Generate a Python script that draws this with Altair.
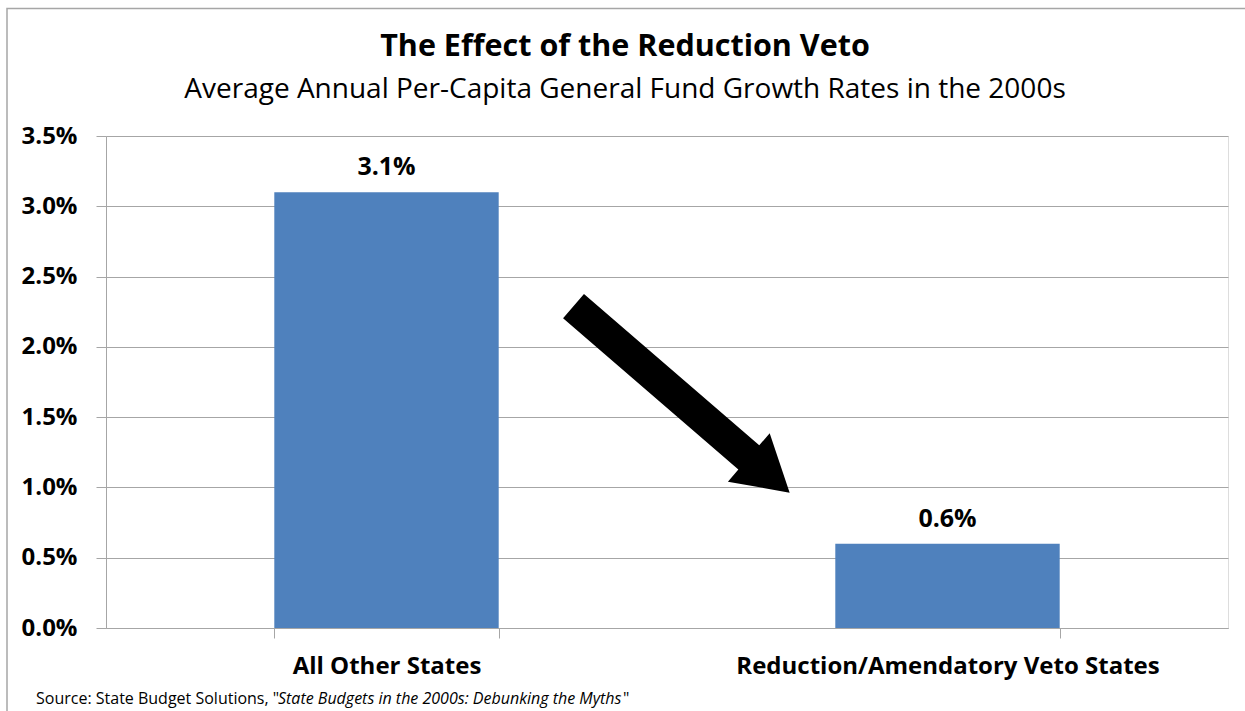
import altair as alt
import pandas as pd

# ---- chart content -------------------------------------------------------
categories = ["All Other States", "Reduction/Amendatory Veto States"]
growth_pct = [3.1, 0.6]
y_ticks = [0.0, 0.5, 1.0, 1.5, 2.0, 2.5, 3.0, 3.5]

title_text = "The Effect of the Reduction Veto"
subtitle_text = "Average Annual Per-Capita General Fund Growth Rates in the 2000s"

source_lead = ['Source: State Budget Solutions, "']
source_work = ["State Budgets in the 2000s: Debunking the Myths"]
source_tail = ['"']

# downward arrow between the bars: centre given as a fraction of the plot
# width and as a growth value on the y scale
arrow_pos = [0.513]
arrow_growth = [1.626]

# ---- styling -------------------------------------------------------------
FONT = "Open Sans"
BAR = "#4F81BD"
GRID = "#A6A6A6"
W, H = 1122, 492

# block arrow pointing right in the unit square; rotated onto its heading
ARROW_SHAPE = ("M -1 -0.112 L 0.622 -0.112 L 0.622 -0.224 L 1 0 "
               "L 0.622 0.224 L 0.622 0.112 L -1 0.112 Z")

bars_df = pd.DataFrame({"category": categories, "growth": growth_pct})
bars_df["label"] = [f"{v:.1f}%" for v in growth_pct]
arrow_df = pd.DataFrame({"pos": arrow_pos, "growth": arrow_growth})

band = alt.Scale(domain=categories, paddingInner=0.6, paddingOuter=0.3)

x_enc = alt.X(
    "category:N",
    sort=categories,
    title=None,
    scale=band,
    axis=alt.Axis(
        labelAngle=0,
        tickBand="extent",
        tickSize=10,
        tickColor=GRID,
        domainColor=GRID,
        labelFont=FONT,
        labelFontSize=24,
        labelFontWeight="bold",
        labelColor="black",
        labelPadding=16,
        labelLimit=0,
        grid=False,
    ),
)
y_enc = alt.Y(
    "growth:Q",
    title=None,
    scale=alt.Scale(domain=[0, 3.5], nice=False),
    axis=alt.Axis(
        values=y_ticks,
        labelExpr="format(datum.value, '.1f') + '%'",
        tickSize=10,
        tickColor=GRID,
        domainColor=GRID,
        gridColor=GRID,
        gridWidth=1,
        labelFont=FONT,
        labelFontSize=24,
        labelFontWeight="bold",
        labelColor="black",
        labelPadding=19,
    ),
)

bars = alt.Chart(bars_df).mark_bar(color=BAR).encode(x=x_enc, y=y_enc)

value_labels = alt.Chart(bars_df).mark_text(
    font=FONT, fontSize=25, fontWeight="bold", color="black",
    baseline="alphabetic", dy=-17,
).encode(
    x=alt.X("category:N", sort=categories, scale=band, axis=None),
    y="growth:Q",
    text="label:N",
)

arrow = alt.Chart(arrow_df).mark_point(
    shape=ARROW_SHAPE, filled=True, color="black", opacity=1,
    size=81510, angle=40.8,
).encode(
    x=alt.X("pos:Q", scale=alt.Scale(domain=[0, 1]), axis=None),
    y="growth:Q",
)

# chart frame (top and left edges fall inside the canvas)
frame = alt.Chart(pd.DataFrame({"k": [0]})).mark_rect(
    filled=False, stroke=GRID, strokeWidth=1.5
).encode(
    x=alt.value(-99), x2=alt.value(W + 60),
    y=alt.value(-127.5), y2=alt.value(H + 120),
)

src_style = dict(font=FONT, fontSize=16, color="black",
                 baseline="alphabetic", align="left")
src1 = alt.Chart(pd.DataFrame({"t": source_lead})).mark_text(**src_style).encode(
    x=alt.value(-70), y=alt.value(568), text="t:N")
src2 = alt.Chart(pd.DataFrame({"t": source_work})).mark_text(
    fontStyle="italic", **src_style).encode(
    x=alt.value(172), y=alt.value(568), text="t:N")
src3 = alt.Chart(pd.DataFrame({"t": source_tail})).mark_text(**src_style).encode(
    x=alt.value(517), y=alt.value(568), text="t:N")

chart = (
    alt.layer(frame, bars, value_labels, arrow, src1, src2, src3)
    .resolve_scale(x="independent")
    .properties(
        width=W,
        height=H,
        padding={"left": 106, "top": 136, "right": 17, "bottom": 83},
        autosize=alt.AutoSizeParams(type="none"),
        title=alt.TitleParams(
            text=title_text,
            subtitle=subtitle_text,
            font=FONT,
            fontSize=30.5,
            fontWeight="bold",
            color="black",
            subtitleFont=FONT,
            subtitleFontSize=28,
            subtitleColor="black",
            anchor="middle",
            frame="group",
            dx=-42,
            offset=-96,
            subtitlePadding=13,
        ),
    )
    .configure_view(stroke=None)
    .configure(background="white")
)

chart.save("out.html", embed_options={"renderer": "svg", "actions": False})
